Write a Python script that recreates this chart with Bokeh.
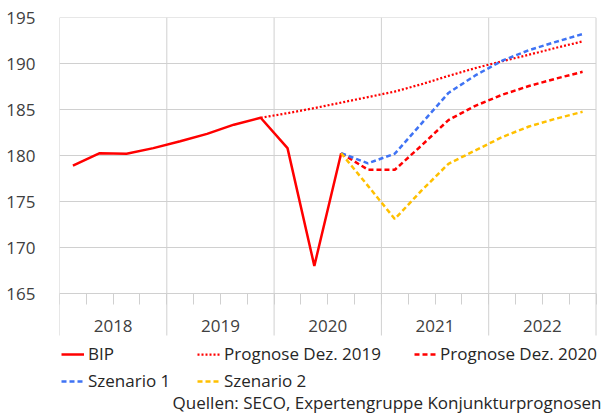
from bokeh.plotting import figure
from bokeh.models import Range1d, FixedTicker, Legend, LegendItem, Label
from bokeh.embed import file_html
from bokeh.resources import INLINE

# ---------------- data ----------------
years = ["2018", "2019", "2020", "2021", "2022"]
n_quarters = 20  # 2018Q1 .. 2022Q4, index 0..19
y_ticks = [165, 170, 175, 180, 185, 190, 195]

bip_q = list(range(0, 11))          # 2018Q1 .. 2020Q3
bip = [178.9, 180.25, 180.2, 180.8, 181.55, 182.35, 183.35, 184.1, 180.8, 168.0, 180.25]

prog19_q = list(range(7, 20))       # 2019Q4 .. 2022Q4
prog19 = [184.1, 184.6, 185.15, 185.75, 186.35, 186.95, 187.75, 188.65, 189.5,
          190.25, 190.95, 191.7, 192.4]

fc_q = list(range(10, 20))          # 2020Q3 .. 2022Q4
prog20 = [180.25, 178.45, 178.45, 181.1, 183.85, 185.4, 186.6, 187.55, 188.35, 189.1]
sz1 = [180.25, 179.15, 180.2, 183.5, 186.8, 188.7, 190.3, 191.45, 192.35, 193.2]
sz2 = [180.25, 176.7, 173.1, 176.2, 179.1, 180.55, 182.0, 183.15, 184.0, 184.75]

source_text = "Quellen: SECO, Expertengruppe Konjunkturprognosen"

# ---------------- layout ----------------
FONT = "Open Sans"
GRID = "#d0d0d0"
TXT = "#404040"
W, H = 604, 414
BL, BR, BT, BB = 59, 0, 17, 0
frame_w = W - BL - BR
frame_h = H - BT - BB
plot_w_px = 536.5            # width of the 20-quarter plot area
q_px = plot_w_px / n_quarters
x_start = -0.5
x_end = x_start + frame_w / q_px
px_per_unit = 9.2
y_top = 195
y_bot = y_top - frame_h / px_per_unit
sep_len_px = 42  # year separators reach below the axis
y_sep_end = y_ticks[0] - sep_len_px / px_per_unit

p = figure(width=W, height=H, output_backend="svg", toolbar_location=None,
           x_range=Range1d(x_start, x_end), y_range=Range1d(y_bot, y_top),
           min_border_left=BL, min_border_right=BR, min_border_top=BT, min_border_bottom=BB)
p.outline_line_color = None
p.background_fill_color = "white"

boundaries = [i - 0.5 for i in range(0, n_quarters + 1)]
year_bounds = [i * 4 - 0.5 for i in range(len(years) + 1)]
year_centers = [i * 4 + 1.5 for i in range(len(years))]
x_first, x_last = boundaries[0], boundaries[-1]

# grids drawn over the quarter span only
p.xgrid.visible = False
p.ygrid.visible = False
p.segment(x0=[x_first] * len(y_ticks), y0=y_ticks, x1=[x_last] * len(y_ticks), y1=y_ticks,
          line_color=GRID, line_width=1)
p.segment(x0=year_bounds, y0=[y_top] * len(year_bounds),
          x1=year_bounds, y1=[y_sep_end] * len(year_bounds),
          line_color=GRID, line_width=1)

# y axis
ya = p.yaxis[0]
ya.ticker = FixedTicker(ticks=y_ticks)
ya.axis_line_color = None
ya.major_tick_line_color = None
ya.minor_tick_line_color = None
ya.major_label_standoff = 18
ya.major_label_text_font = FONT
ya.major_label_text_font_size = "17px"
ya.major_label_text_color = TXT

# x axis at 165
xa = p.xaxis[0]
xa.ticker = FixedTicker(ticks=year_centers, minor_ticks=boundaries)
xa.major_label_overrides = {c: y for c, y in zip(year_centers, years)}
xa.fixed_location = y_ticks[0]
xa.axis_line_color = None
xa.major_tick_line_color = None
xa.minor_tick_line_color = GRID
xa.minor_tick_out = 11
xa.minor_tick_in = 0
xa.major_label_standoff = 15
xa.major_label_text_font = FONT
xa.major_label_text_font_size = "17px"
xa.major_label_text_color = TXT

# lines
r_bip = p.line(x=bip_q, y=bip, line_color="#ff0000", line_width=2.5)
r_p19 = p.line(x=prog19_q, y=prog19, line_color="#ff0000", line_width=2.25, line_dash="2 2")
r_p20 = p.line(x=fc_q, y=prog20, line_color="#ff0000", line_width=2.5, line_dash="5 3")
r_s1 = p.line(x=fc_q, y=sz1, line_color="#3f73f4", line_width=2.5, line_dash="5 3")
r_s2 = p.line(x=fc_q, y=sz2, line_color="#ffc000", line_width=2.5, line_dash="5 3")


def make_legend(items, loc, glyph_w, standoff):
    return Legend(items=[LegendItem(label=l, renderers=[r]) for l, r in items],
                  location=loc, orientation="vertical",
                  background_fill_alpha=0, border_line_color=None,
                  padding=0, margin=0, spacing=4,
                  glyph_width=glyph_w, glyph_height=20, label_height=20,
                  label_standoff=standoff,
                  label_text_font=FONT, label_text_font_size="17px",
                  label_text_color="#262626")


p.add_layout(make_legend([("BIP", r_bip), ("Szenario 1", r_s1)], (2, 22), 23, 4))
p.add_layout(make_legend([("Prognose Dez. 2019", r_p19), ("Szenario 2", r_s2)], (138, 22), 24, 3))
p.add_layout(make_legend([("Prognose Dez. 2020", r_p20)], (355, 49), 24, 2))

p.add_layout(Label(x=frame_w - 3, y=1, x_units="screen", y_units="screen",
                   text=source_text, text_align="right", text_baseline="bottom",
                   text_font=FONT, text_font_size="17px", text_color="#262626"))

open("out.html", "w").write(file_html(p, INLINE))
